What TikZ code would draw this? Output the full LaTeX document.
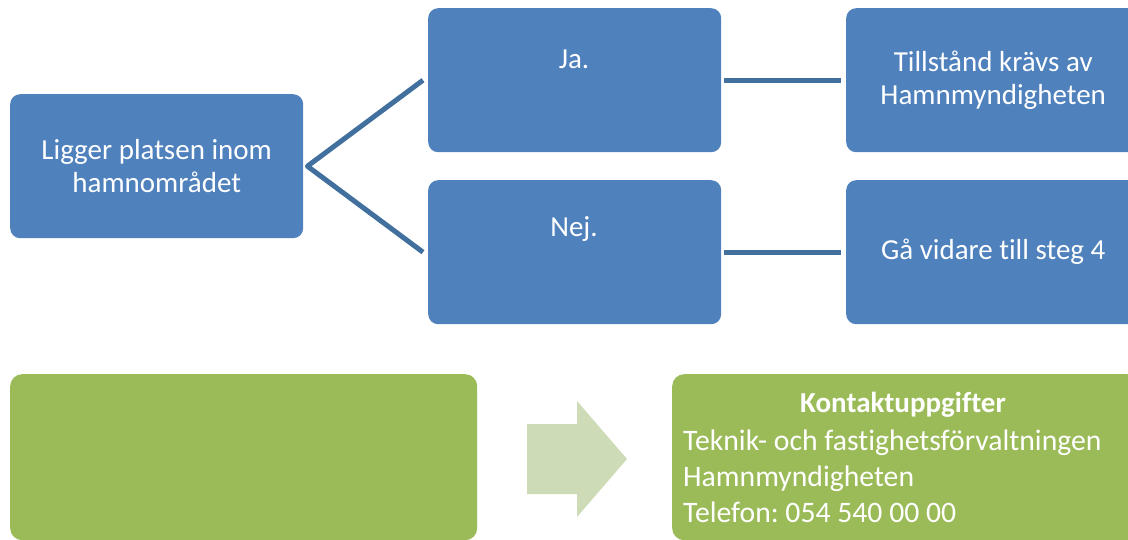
\documentclass[tikz,border=0pt]{standalone}
\usepackage{fontspec}
\setmainfont{Carlito}[Ligatures={NoCommon}]
\definecolor{boxblue}{HTML}{4F81BD}
\definecolor{lineblue}{HTML}{41709F}
\definecolor{boxgreen}{HTML}{9BBB59}
\definecolor{arrowgreen}{RGB}{205,219,183}
\frenchspacing
\begin{document}
\begin{tikzpicture}[x=1pt,y=-1pt,
  bluebox/.style={fill=boxblue, rounded corners=10pt, minimum width=293pt, minimum height=144pt,
    inner sep=0pt, text=white, align=center, anchor=north west, font=\fontsize{29}{33}\selectfont},
  greenbox/.style={fill=boxgreen, rounded corners=12pt, minimum width=467pt, minimum height=166pt,
    inner sep=0pt, anchor=north west},
  lbl/.style={text=white, inner sep=0pt, font=\fontsize{29}{33}\selectfont},
  contact/.style={text=white, inner sep=0pt, anchor=base west, font=\fontsize{29.7}{36}\selectfont},
  conn/.style={draw=lineblue, line width=5pt, line join=round},
  hint/.style={fill=arrowgreen, draw=none}]
\useasboundingbox (0,0) rectangle (1128,540);
\clip (0,0) rectangle (1128,540);

% blue boxes
\node[bluebox] (q) at (10,94) {Ligger platsen inom\\hamnområdet};
\node[bluebox] (ja) at (428,8) {};
\node[bluebox] (nej) at (428,180) {};
\node[bluebox, minimum width=294pt] (yes) at (846,8) {Tillstånd krävs av\\Hamnmyndigheten};
\node[bluebox, minimum width=294pt] (no) at (846,180) {Gå vidare till steg 4};
\node[lbl, anchor=base] (jat) at (574,69) {Ja.};
\node[lbl, anchor=base] (nejt) at (574,237) {Nej.};

% connectors
\draw[conn] ([xshift=-5pt]ja.west) -- ([xshift=4pt]q.east) -- ([xshift=-5pt]nej.west);
\draw[conn, line cap=butt] ([xshift=3pt]ja.east) -- ([xshift=-5pt]yes.west);
\draw[conn, line cap=butt] ([xshift=3pt]nej.east) -- ([xshift=-5pt]no.west);

% green boxes
\node[greenbox] (gl) at (10,374) {};
\node[greenbox] (gr) at (672,374) {};

% block arrow
\path[hint] (527,424) -- (577,424) -- (577,401) -- (627,459) -- (577,517) -- (577,494) -- (527,494) -- cycle;

% contact text
\node[lbl, anchor=base, font=\fontsize{29}{33}\selectfont\bfseries] (kt) at (903,412) {Kontaktuppgifter};
\node[contact] (k1) at (683,450) {Teknik- och fastighetsförvaltningen};
\node[contact] (k2) at (683,486) {Hamnmyndigheten};
\node[contact] (k3) at (683,522) {Telefon: 054 540 00 00};
\end{tikzpicture}
\end{document}
